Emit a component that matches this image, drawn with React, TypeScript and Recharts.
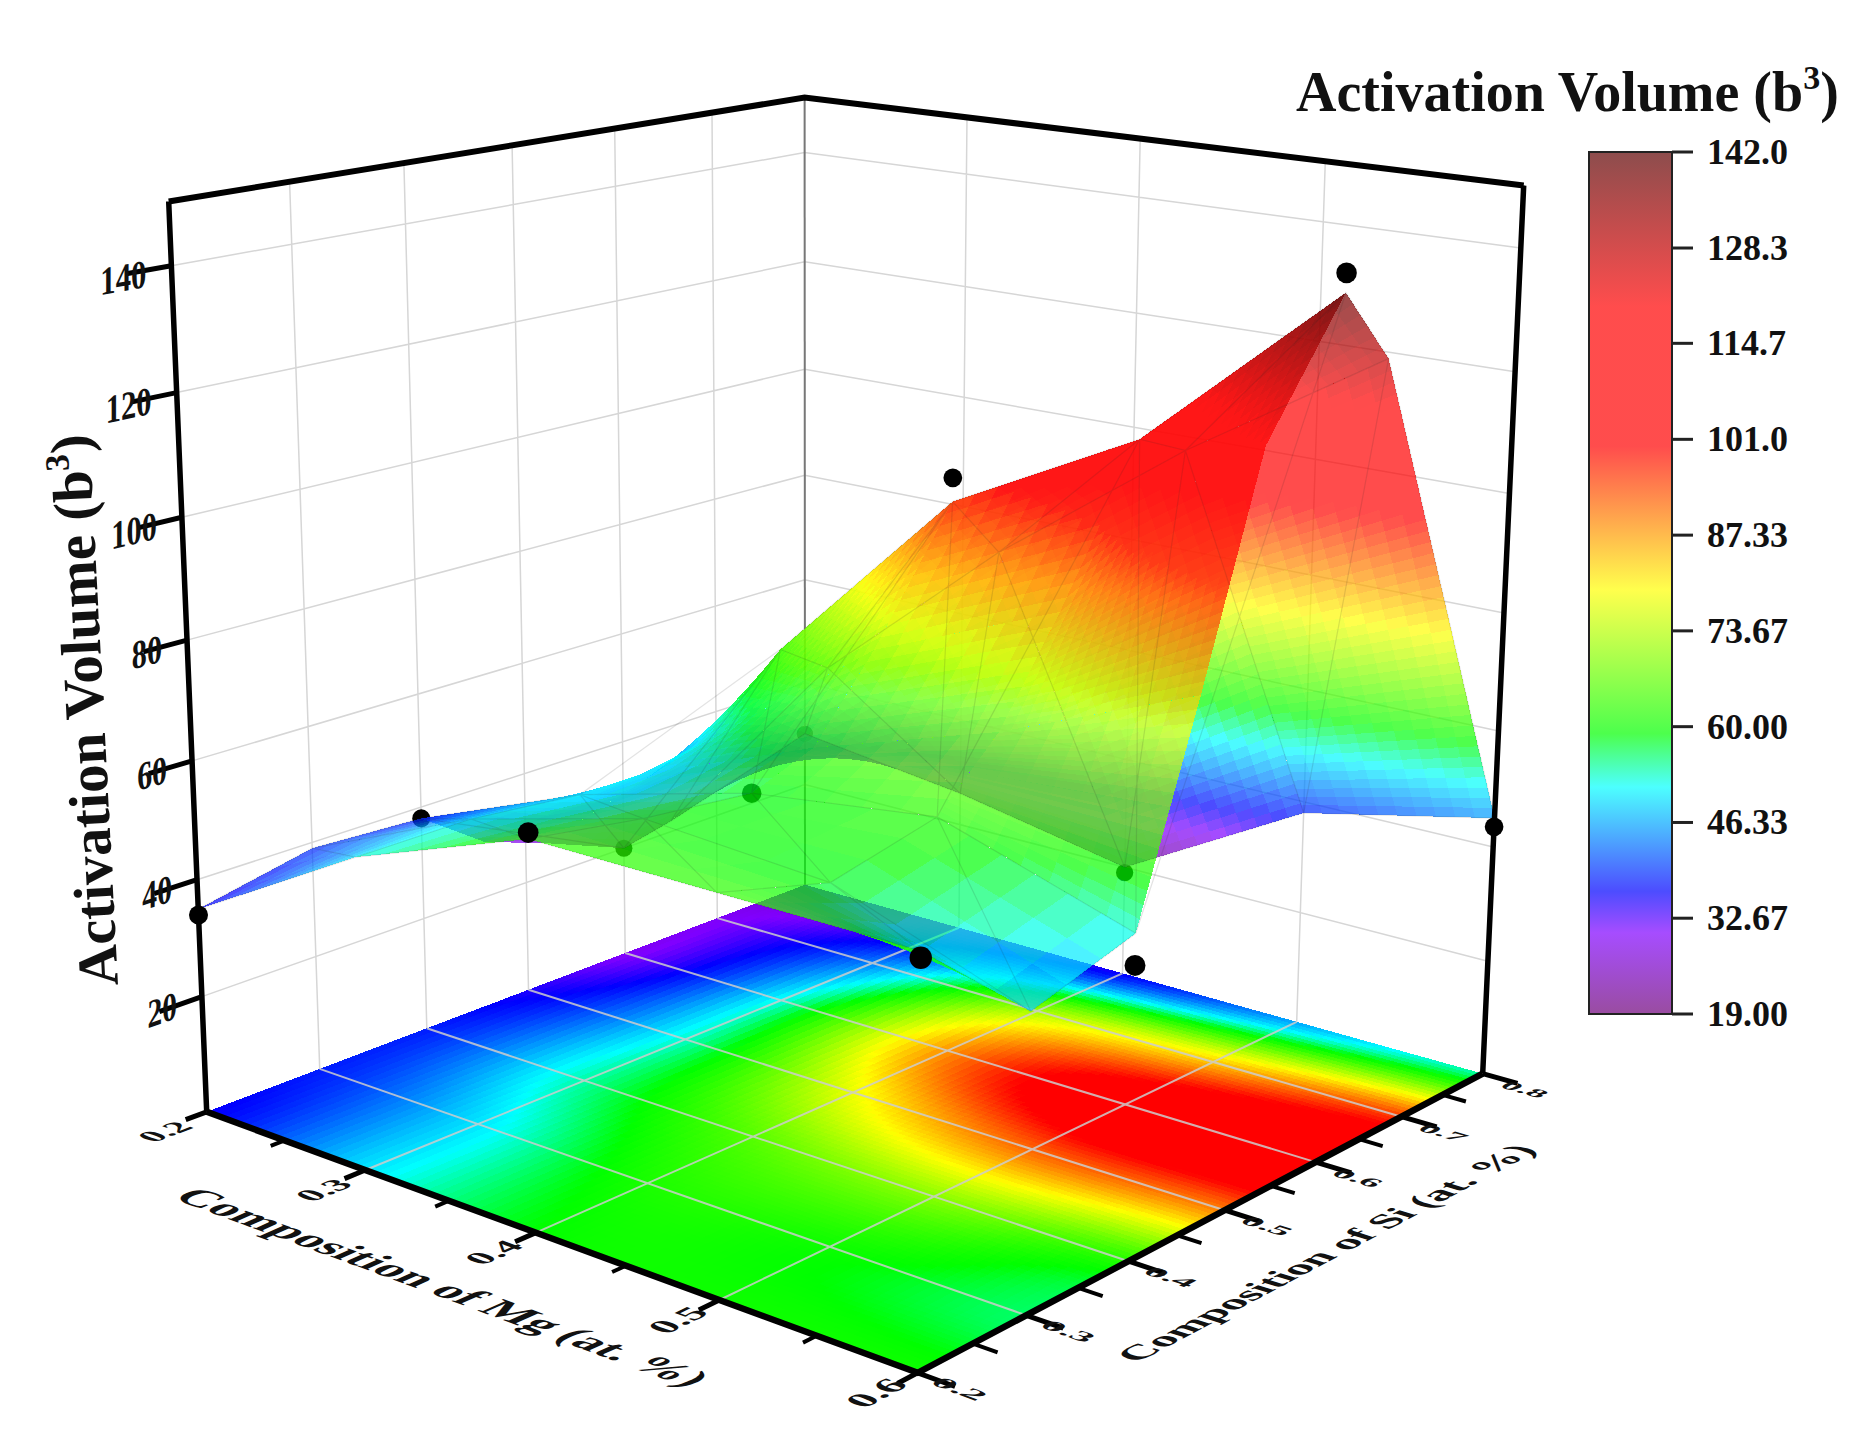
import React from "react";
import { Scatter, ScatterChart, XAxis, YAxis } from "recharts";

const WIDTH = 1872;
const HEIGHT = 1454;
const FONT = '"Liberation Serif", "Times New Roman", serif';

// Grid of the gridded surface
const MG_GRID = [0.2, 0.3, 0.4, 0.5, 0.6];
const SI_GRID = [0.2, 0.3, 0.4, 0.46, 0.52, 0.6, 0.65, 0.8];
const SURFACE_Z = [
  [35, 39, 38, 30, 26, 20, 22, 30],
  [52, 52, 50, 50, 52, 64, 58, 26],
  [63, 60, 58, 62, 75, 96, 85, 20],
  [63, 58, 62, 72, 88, 112, 108, 38],
  [63, 47, 52, 85, 120, 140, 128, 45],
];

// Contour map on the floor
const FLOOR_SI = [0.2, 0.3, 0.4, 0.5, 0.6, 0.7, 0.8];
const FLOOR_Z = [
  [36, 38, 38, 35, 30, 30, 27],
  [50, 50, 54, 53, 52, 44, 31],
  [59, 61, 66, 78, 88, 72, 36],
  [60, 60, 70, 92, 108, 84, 46],
  [60, 56, 62, 90, 112, 95, 54],
];

// Measured points (black dots)
const DOT_MG = [0.2, 0.4, 0.6];
const DOT_SI = [0.2, 0.4, 0.6, 0.8];
const DOT_Z = [
  [34, 38, 20, 30],
  [64, 58, 100, 19],
  [62, 47, 143, 43.5],
];
const DOTS_BEHIND = ["0.2-0.4", "0.2-0.6", "0.2-0.8", "0.4-0.4", "0.4-0.8"];

const Z_MAX = 150;
const Z_TICKS = [20, 40, 60, 80, 100, 120, 140];
const MG_TICKS = [0.2, 0.3, 0.4, 0.5, 0.6];
const MG_MINOR = [0.25, 0.35, 0.45, 0.55];
const SI_TICKS = [0.2, 0.3, 0.4, 0.5, 0.6, 0.7, 0.8];
const SI_MINOR = [0.25, 0.35, 0.45, 0.55, 0.65, 0.75];
const BAR_TICKS = ["142.0", "128.3", "114.7", "101.0", "87.33", "73.67", "60.00", "46.33", "32.67", "19.00"];
const BAR_MIN = 19;
const BAR_MAX = 142;

// z -> colour stops of the colour bar
const RAMP: [number, number, number, number][] = [
  [19, 110, 0, 120],
  [30.6, 128, 0, 255],
  [36.5, 0, 0, 255],
  [51.4, 0, 255, 255],
  [59, 0, 255, 0],
  [79.5, 255, 255, 0],
  [100, 255, 0, 0],
  [120, 255, 0, 0],
  [142, 92, 0, 0],
];

function rampColor(z: number) {
  if (z <= RAMP[0][0]) return RAMP[0].slice(1);
  for (let i = 1; i < RAMP.length; i++) {
    if (z <= RAMP[i][0]) {
      const t = (z - RAMP[i - 1][0]) / (RAMP[i][0] - RAMP[i - 1][0]);
      return [1, 2, 3].map((k) => Math.round(RAMP[i - 1][k] + (RAMP[i][k] - RAMP[i - 1][k]) * t));
    }
  }
  return RAMP[RAMP.length - 1].slice(1);
}

// Box corners on the picture: unit cube position -> pixel, to fit the camera
const BOX_CORNERS = [
  [0, 0, 0, 207, 1112],
  [1, 0, 0, 917, 1373],
  [1, 1, 0, 1483, 1073],
  [0, 1, 0, 805, 885],
  [0, 0, 1, 169, 201],
  [0, 1, 1, 804, 97.5],
  [1, 1, 1, 1524, 186],
];

function fitCamera() {
  const rows: number[][] = [];
  BOX_CORNERS.forEach(([a, b, c, X, Y]) => {
    const x = X / 1000;
    const y = Y / 1000;
    rows.push([a, b, c, 1, 0, 0, 0, 0, -x * a, -x * b, -x * c, x]);
    rows.push([0, 0, 0, 0, a, b, c, 1, -y * a, -y * b, -y * c, y]);
  });
  const n = 11;
  const m = Array.from({ length: n }, (_, i) =>
    Array.from({ length: n + 1 }, (_, j) => rows.reduce((s, r) => s + r[i] * r[j], 0))
  );
  for (let i = 0; i < n; i++) {
    let best = i;
    for (let r = i + 1; r < n; r++) if (Math.abs(m[r][i]) > Math.abs(m[best][i])) best = r;
    [m[i], m[best]] = [m[best], m[i]];
    for (let r = 0; r < n; r++) {
      if (r === i) continue;
      const f = m[r][i] / m[i][i];
      for (let c = i; c <= n; c++) m[r][c] -= f * m[i][c];
    }
  }
  return m.map((r, i) => r[n] / r[i]);
}
const CAM = fitCamera();

function project(mg: number, si: number, z: number) {
  const a = (mg - 0.2) / 0.4;
  const b = (si - 0.2) / 0.6;
  const c = z / Z_MAX;
  const w = CAM[8] * a + CAM[9] * b + CAM[10] * c + 1;
  return {
    x: (1000 * (CAM[0] * a + CAM[1] * b + CAM[2] * c + CAM[3])) / w,
    y: (1000 * (CAM[4] * a + CAM[5] * b + CAM[6] * c + CAM[7])) / w,
    w,
  };
}

function unit(from: { x: number; y: number }, to: { x: number; y: number }) {
  const dx = to.x - from.x;
  const dy = to.y - from.y;
  const l = Math.hypot(dx, dy);
  return [dx / l, dy / l];
}

const lerp = (a: number, b: number, t: number) => a + (b - a) * t;

function gridZ(rows: number[][], si: number[], i: number, j: number, u: number, v: number) {
  const top = lerp(rows[i][j], rows[i][j + 1], v);
  const bot = lerp(rows[i + 1][j], rows[i + 1][j + 1], v);
  return lerp(top, bot, u);
}

// ---- marks, in chart data space ----
function segmentPath(list: [number, number, number][][]) {
  return list
    .map((pts) =>
      pts
        .map((p, i) => {
          const q = project(p[0], p[1], p[2]);
          return `${i ? "L" : "M"}${q.x.toFixed(1)} ${q.y.toFixed(1)}`;
        })
        .join("")
    )
    .join("");
}

function pathMark(list: [number, number, number][][], stroke: string, strokeWidth: number) {
  return { x: 0, y: 0, d: segmentPath(list), stroke, strokeWidth };
}

function catmull(p0: number, p1: number, p2: number, p3: number, t: number) {
  return 0.5 * (2 * p1 + (p2 - p0) * t + (2 * p0 - 5 * p1 + 4 * p2 - p3) * t * t + (3 * p1 - p0 - 3 * p2 + p3) * t * t * t);
}

function floorValue(u: number, v: number) {
  // u, v in grid units
  const i = Math.min(Math.floor(u), MG_GRID.length - 2);
  const j = Math.min(Math.floor(v), FLOOR_SI.length - 2);
  const row = (r: number) => {
    const R = FLOOR_Z[Math.max(0, Math.min(MG_GRID.length - 1, r))];
    const at = (k: number) => R[Math.max(0, Math.min(FLOOR_SI.length - 1, k))];
    return catmull(at(j - 1), at(j), at(j + 1), at(j + 2), v - j);
  };
  return catmull(row(i - 1), row(i), row(i + 1), row(i + 2), u - i);
}

function buildFloor() {
  const NU = 80;
  const NV = 120;
  const out = [];
  for (let i = 0; i < NU; i++) {
    const cells = [];
    for (let j = 0; j < NV; j++) {
      const u0 = i / NU;
      const u1 = (i + 1) / NU;
      const v0 = j / NV;
      const v1 = (j + 1) / NV;
      const corners = [[u0, v0], [u1, v0], [u1, v1], [u0, v1]];
      const z = floorValue(((u0 + u1) / 2) * 4, ((v0 + v1) / 2) * 6);
      const d =
        corners
          .map(([u, v], k) => {
            const q = project(0.2 + 0.4 * u, 0.2 + 0.6 * v, 0);
            return `${k ? "L" : "M"}${q.x.toFixed(1)} ${q.y.toFixed(1)}`;
          })
          .join("") + "Z";
      const c = rampColor(z);
      cells.push({ d, fill: `rgb(${c[0]},${c[1]},${c[2]})` });
    }
    out.push({ x: 0, y: 0, cells });
  }
  return out;
}

function buildSurface() {
  const patches: { x: number; y: number; depth: number; cells: { d: string; fill: string }[] }[] = [];
  for (let i = 0; i < MG_GRID.length - 1; i++) {
    for (let j = 0; j < SI_GRID.length - 1; j++) {
      const zz = [SURFACE_Z[i][j], SURFACE_Z[i][j + 1], SURFACE_Z[i + 1][j], SURFACE_Z[i + 1][j + 1]];
      const nv = Math.max(3, Math.min(60, Math.ceil(Math.max(Math.abs(zz[0] - zz[1]), Math.abs(zz[2] - zz[3])) / 2)));
      const nu = Math.max(3, Math.min(60, Math.ceil(Math.max(Math.abs(zz[0] - zz[2]), Math.abs(zz[1] - zz[3])) / 2)));
      const cells: { d: string; fill: string; w: number }[] = [];
      const pt = (u: number, v: number) => {
        const z = gridZ(SURFACE_Z, SI_GRID, i, j, u, v);
        return project(lerp(MG_GRID[i], MG_GRID[i + 1], u), lerp(SI_GRID[j], SI_GRID[j + 1], v), z);
      };
      for (let a = 0; a < nu; a++) {
        for (let b = 0; b < nv; b++) {
          const u0 = a / nu;
          const u1 = (a + 1) / nu;
          const v0 = b / nv;
          const v1 = (b + 1) / nv;
          const qs = [pt(u0, v0), pt(u1, v0), pt(u1, v1), pt(u0, v1)];
          const z = gridZ(SURFACE_Z, SI_GRID, i, j, (u0 + u1) / 2, (v0 + v1) / 2);
          const c = rampColor(z);
          cells.push({
            d: qs.map((q, k) => `${k ? "L" : "M"}${q.x.toFixed(1)} ${q.y.toFixed(1)}`).join("") + "Z",
            fill: `rgba(${c[0]},${c[1]},${c[2]},0.7)`,
            w: qs[0].w,
          });
        }
      }
      cells.sort((p, q) => q.w - p.w);
      patches.push({ x: 0, y: 0, depth: pt(0.5, 0.5).w, cells });
    }
  }
  patches.sort((p, q) => q.depth - p.depth);
  return patches;
}

function buildMesh() {
  const keep = SI_GRID.map((s, j) => j).filter((j) => j !== 3 && j !== 4);
  const list: [number, number, number][][] = [];
  MG_GRID.forEach((mg, i) => {
    list.push(keep.map((j) => [mg, SI_GRID[j], SURFACE_Z[i][j]] as [number, number, number]));
  });
  keep.forEach((j) => {
    list.push(MG_GRID.map((mg, i) => [mg, SI_GRID[j], SURFACE_Z[i][j]] as [number, number, number]));
  });
  for (let i = 0; i < MG_GRID.length - 1; i++) {
    for (let k = 0; k < keep.length - 1; k++) {
      const j = keep[k];
      const n = keep[k + 1];
      list.push([
        [MG_GRID[i], SI_GRID[n], SURFACE_Z[i][n]],
        [MG_GRID[i + 1], SI_GRID[j], SURFACE_Z[i + 1][j]],
      ]);
    }
  }
  return [pathMark(list, "rgba(40,40,40,0.13)", 1.2)];
}

function buildDots() {
  const behind: { x: number; y: number; r: number }[] = [];
  const front: { x: number; y: number; r: number }[] = [];
  DOT_MG.forEach((mg, i) => {
    DOT_SI.forEach((si, j) => {
      const q = project(mg, si, DOT_Z[i][j]);
      const item = { x: q.x, y: q.y, r: 9.5 * (project(0.4, 0.5, 60).w / q.w) };
      (DOTS_BEHIND.includes(`${mg}-${si}`) ? behind : front).push(item);
    });
  });
  return { behind, front };
}

// text laid on a box plane: matrix columns are the glyph's x and y directions
function planeText(
  at: { x: number; y: number },
  text: string,
  fontSize: number,
  xDir: number[],
  yDir: number[],
  sx: number,
  sy: number,
  anchor = "middle"
) {
  return {
    x: at.x,
    y: at.y,
    text,
    fontSize,
    anchor,
    m: [xDir[0] * sx, xDir[1] * sx, yDir[0] * sy, yDir[1] * sy],
  };
}

function buildAxisTexts() {
  const out: any[] = [];
  const w0 = project(0.4, 0.5, 0).w;
  Z_TICKS.forEach((z) => {
    const q = project(0.2, 0.2, z);
    const along = unit(project(0.2, 0.2, z), project(0.2, 0.3, z));
    out.push(planeText({ x: q.x - 25, y: q.y + 8 }, String(z), 40, along, [0, 1], 0.78, 1, "end"));
  });
  MG_TICKS.forEach((mg) => {
    const q = project(mg, 0.2, 0);
    const xd = unit(project(mg, 0.2, 0), project(mg, 0.3, 0));
    const yd = unit(project(Math.min(mg, 0.5), 0.2, 0), project(Math.min(mg, 0.5) + 0.1, 0.2, 0));
    const k = w0 / q.w;
    out.push(planeText({ x: q.x - 42, y: q.y + 20 }, mg.toFixed(1), 35 * k, xd, yd, 1, 0.85));
  });
  SI_TICKS.forEach((si) => {
    const q = project(0.6, si, 0);
    const xd = unit(project(0.5, si, 0), project(0.6, si, 0));
    const base = Math.max(si, 0.3);
    const yd = unit(project(0.6, base, 0), project(0.6, base - 0.1, 0));
    const k = w0 / q.w;
    out.push(planeText({ x: q.x + 42, y: q.y + 16 }, si.toFixed(1), 35 * k, xd, yd, 1, 0.55));
  });
  const mgDir = unit(project(0.2, 0.2, 0), project(0.6, 0.2, 0));
  const mgUp = unit(project(0.4, 0.2, 0), project(0.4, 0.1, 0));
  out.push(planeText({ x: 443, y: 1287 }, "Composition of Mg (at. %)", 48, mgDir, mgUp, 1, 0.9));
  const siDir = unit(project(0.6, 0.2, 0), project(0.6, 0.8, 0));
  const siDown = unit(project(0.5, 0.5, 0), project(0.6, 0.5, 0));
  out.push(planeText({ x: 1326, y: 1253 }, "Composition of Si (at. %)", 44, siDir, siDown, 0.95, 0.85));
  return out;
}

const wallLines: [number, number, number][][] = [];
Z_TICKS.forEach((z) => {
  wallLines.push([[0.2, 0.2, z], [0.2, 0.8, z], [0.6, 0.8, z]]);
});
[0.3, 0.4, 0.5, 0.6, 0.7].forEach((si) => wallLines.push([[0.2, si, 0], [0.2, si, Z_MAX]]));
[0.3, 0.4, 0.5].forEach((mg) => wallLines.push([[mg, 0.8, 0], [mg, 0.8, Z_MAX]]));

const floorLines: [number, number, number][][] = [];
[0.3, 0.4, 0.5, 0.6, 0.7].forEach((si) => floorLines.push([[0.2, si, 0], [0.6, si, 0]]));
[0.3, 0.4, 0.5].forEach((mg) => floorLines.push([[mg, 0.2, 0], [mg, 0.8, 0]]));

const zTicks: [number, number, number][][] = Z_TICKS.map((z) => [[0.2, 0.2, z], [0.2, 0.164, z]]);
const bottomTicks: [number, number, number][][] = [
  ...MG_TICKS.map((mg) => [[mg, 0.2, 0], [mg, 0.182, 0]] as [number, number, number][]),
  ...SI_TICKS.map((si) => [[0.6, si, 0], [0.618, si, 0]] as [number, number, number][]),
];
const minorTicks: [number, number, number][][] = [
  ...MG_MINOR.map((mg) => [[mg, 0.2, 0], [mg, 0.188, 0]] as [number, number, number][]),
  ...SI_MINOR.map((si) => [[0.6, si, 0], [0.612, si, 0]] as [number, number, number][]),
];

const FRAME_MARKS = [
  pathMark(wallLines, "#d6d6d6", 1.5),
];
const BACK_EDGE = [pathMark([[[0.2, 0.8, 0], [0.2, 0.8, Z_MAX]]], "#777", 2)];
const FLOOR_LINES = [pathMark(floorLines, "rgba(205,205,205,0.85)", 2)];
const BLACK_TOP = [pathMark([[[0.2, 0.2, Z_MAX], [0.2, 0.8, Z_MAX], [0.6, 0.8, Z_MAX]]], "#000", 6)];
const BLACK_AXES = [
  pathMark([[[0.2, 0.2, Z_MAX], [0.2, 0.2, 0]], [[0.6, 0.8, 0], [0.6, 0.8, Z_MAX]]], "#000", 5.5),
  pathMark([[[0.2, 0.2, 0], [0.6, 0.2, 0], [0.6, 0.8, 0]]], "#000", 6.5),
  pathMark(zTicks, "#000", 5),
  pathMark(bottomTicks, "#000", 5),
  pathMark(minorTicks, "#000", 4),
];

const FLOOR_ROWS = buildFloor();
const SURFACE_PATCHES = buildSurface();
const MESH = buildMesh();
const DOTS = buildDots();
const AXIS_TEXTS = buildAxisTexts();

// colour bar geometry
const BAR_LEFT = 1589;
const BAR_RIGHT = 1672;
const BAR_TOP = 152;
const BAR_BOTTOM = 1014;
const barMark = [{ x: BAR_LEFT, y: BAR_TOP }];
const barLabels = BAR_TICKS.map((text) => ({
  x: BAR_RIGHT,
  y: lerp(BAR_BOTTOM, BAR_TOP, (parseFloat(text) - BAR_MIN) / (BAR_MAX - BAR_MIN)),
  text,
}));

const titleMark = [{ x: 1296, y: 111 }];
const yTitleMark = [{ x: 118, y: 985 }];

// ---- shapes ----
function PathShape(p: any) {
  const m = p.payload;
  return (
    <g transform={`translate(${p.cx - m.x},${p.cy - m.y})`}>
      <path d={m.d} fill="none" stroke={m.stroke} strokeWidth={m.strokeWidth} strokeLinejoin="miter" />
    </g>
  );
}

function CellsShape(p: any) {
  const m = p.payload;
  return (
    <g transform={`translate(${p.cx - m.x},${p.cy - m.y})`}>
      {m.cells.map((c: any, i: number) => (
        <path key={i} d={c.d} fill={c.fill} shapeRendering="crispEdges" />
      ))}
    </g>
  );
}

function DotShape(p: any) {
  return <circle cx={p.cx} cy={p.cy} r={p.payload.r} fill="#000" />;
}

function PlaneTextShape(p: any) {
  const m = p.payload;
  return (
    <text
      transform={`matrix(${m.m.join(" ")} ${p.cx} ${p.cy})`}
      fontFamily={FONT}
      fontWeight="bold"
      fontSize={m.fontSize}
      textAnchor={m.anchor}
      dominantBaseline="central"
      fill="#111"
    >
      {m.text}
    </text>
  );
}

function BarShape(p: any) {
  const height = BAR_BOTTOM - BAR_TOP;
  const width = BAR_RIGHT - BAR_LEFT;
  const x = p.cx;
  const y = p.cy;
  return (
    <g>
      <defs>
        <linearGradient id="bar" x1="0" y1="1" x2="0" y2="0">
          {RAMP.map((s) => (
            <stop
              key={s[0]}
              offset={(s[0] - BAR_MIN) / (BAR_MAX - BAR_MIN)}
              stopColor={`rgb(${s[1]},${s[2]},${s[3]})`}
              stopOpacity={0.7}
            />
          ))}
        </linearGradient>
      </defs>
      <rect x={x} y={y} width={width} height={height} fill="url(#bar)" stroke="#222" strokeWidth={2} />
    </g>
  );
}

function BarLabelShape(p: any) {
  return (
    <g>
      <line x1={p.cx} x2={p.cx + 21} y1={p.cy} y2={p.cy} stroke="#222" strokeWidth={3} />
      <text x={p.cx + 35} y={p.cy + 12} fontFamily={FONT} fontWeight="bold" fontSize={36} fill="#111">
        {p.payload.text}
      </text>
    </g>
  );
}

function TitleShape(p: any) {
  return (
    <text x={p.cx} y={p.cy} fontFamily={FONT} fontWeight="bold" fontSize={56} fill="#111">
      Activation Volume (b
      <tspan dy={-22} fontSize={34}>3</tspan>
      <tspan dy={22}>)</tspan>
    </text>
  );
}

function YTitleShape(p: any) {
  return (
    <text transform={`translate(${p.cx},${p.cy}) rotate(-93)`} fontFamily={FONT} fontWeight="bold" fontSize={57} fill="#111">
      Activation Volume (b
      <tspan dy={-22} fontSize={34}>3</tspan>
      <tspan dy={22}>)</tspan>
    </text>
  );
}

export default function App() {
  const none = { isAnimationActive: false as const };
  return (
    <div style={{ position: "absolute", left: 0, top: 0, width: WIDTH, height: HEIGHT, background: "#fff", overflow: "hidden" }}>
      <style>{`.soft{filter:blur(0.6px)}`}</style>
      <ScatterChart width={WIDTH} height={HEIGHT} margin={{ top: 0, right: 0, bottom: 0, left: 0 }}>
        <XAxis type="number" dataKey="x" domain={[0, WIDTH]} hide allowDataOverflow />
        <YAxis type="number" dataKey="y" domain={[0, HEIGHT]} reversed hide allowDataOverflow />
        <Scatter {...none} data={FRAME_MARKS} shape={PathShape} />
        <Scatter {...none} data={BACK_EDGE} shape={PathShape} />
        <Scatter {...none} className="soft" data={FLOOR_ROWS} shape={CellsShape} />
        <Scatter {...none} data={FLOOR_LINES} shape={PathShape} />
        <Scatter {...none} data={BLACK_TOP} shape={PathShape} />
        <Scatter {...none} data={DOTS.behind} shape={DotShape} />
        <Scatter {...none} className="soft" data={SURFACE_PATCHES} shape={CellsShape} />
        <Scatter {...none} data={MESH} shape={PathShape} />
        <Scatter {...none} data={BLACK_AXES} shape={PathShape} />
        <Scatter {...none} data={DOTS.front} shape={DotShape} />
        <Scatter {...none} data={AXIS_TEXTS} shape={PlaneTextShape} />
        <Scatter {...none} data={barMark} shape={BarShape} />
        <Scatter {...none} data={barLabels} shape={BarLabelShape} />
        <Scatter {...none} data={titleMark} shape={TitleShape} />
        <Scatter {...none} data={yTitleMark} shape={YTitleShape} />
      </ScatterChart>
    </div>
  );
}
